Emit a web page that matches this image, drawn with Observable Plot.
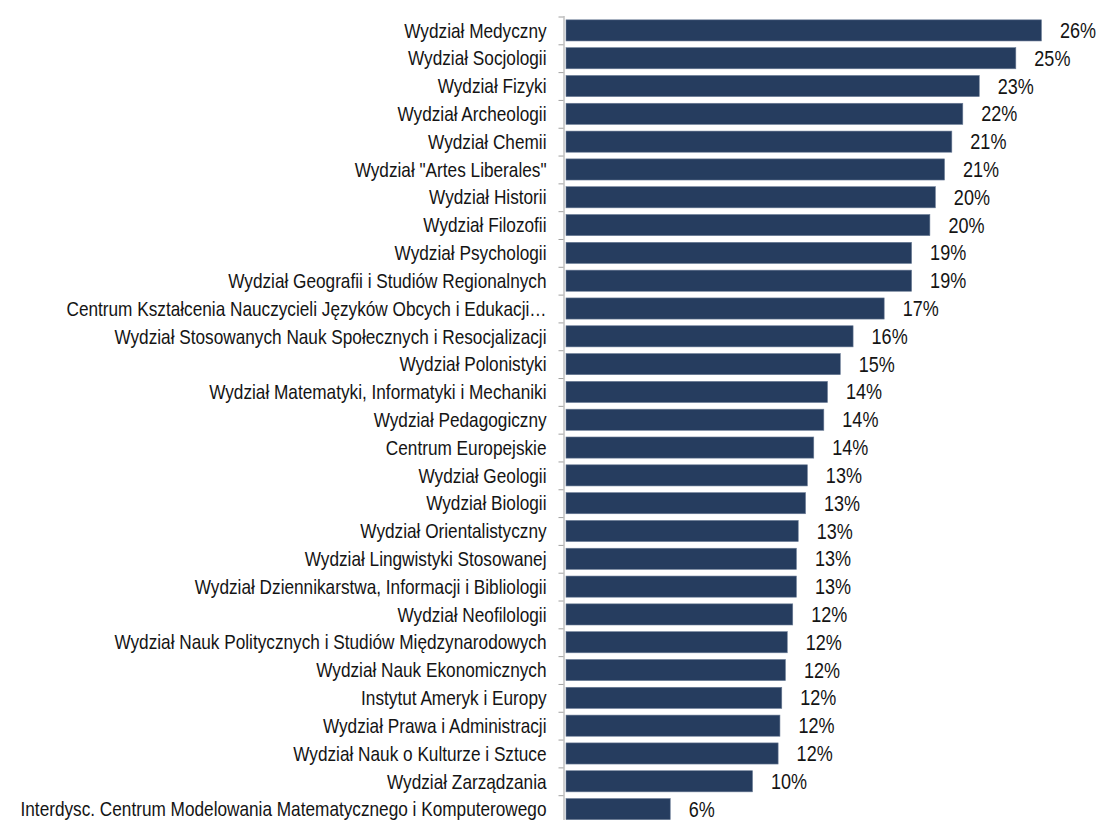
<!DOCTYPE html>
<html>
<head>
<meta charset="utf-8">
<script src="https://cdn.jsdelivr.net/npm/d3@7"></script>
<script src="https://cdn.jsdelivr.net/npm/@observablehq/plot@0.6"></script>
<style>
  html, body { margin: 0; padding: 0; background: #ffffff; }
  #chart { width: 1101px; height: 820px; overflow: hidden; }
</style>
</head>
<body>
<div id="chart"></div>
<script>
const categories = [
  "Wydział Medyczny",
  "Wydział Socjologii",
  "Wydział Fizyki",
  "Wydział Archeologii",
  "Wydział Chemii",
  "Wydział \"Artes Liberales\"",
  "Wydział Historii",
  "Wydział Filozofii",
  "Wydział Psychologii",
  "Wydział Geografii i Studiów Regionalnych",
  "Centrum Kształcenia Nauczycieli Języków Obcych i Edukacji…",
  "Wydział Stosowanych Nauk Społecznych i Resocjalizacji",
  "Wydział Polonistyki",
  "Wydział Matematyki, Informatyki i Mechaniki",
  "Wydział Pedagogiczny",
  "Centrum Europejskie",
  "Wydział Geologii",
  "Wydział Biologii",
  "Wydział Orientalistyczny",
  "Wydział Lingwistyki Stosowanej",
  "Wydział Dziennikarstwa, Informacji i Bibliologii",
  "Wydział Neofilologii",
  "Wydział Nauk Politycznych i Studiów Międzynarodowych",
  "Wydział Nauk Ekonomicznych",
  "Instytut Ameryk i Europy",
  "Wydział Prawa i Administracji",
  "Wydział Nauk o Kulturze i Sztuce",
  "Wydział Zarządzania",
  "Interdysc. Centrum Modelowania Matematycznego i Komputerowego"
];
const values = [
  26.0, 24.6, 22.6, 21.7, 21.1, 20.7, 20.2, 19.9, 18.9, 18.9,
  17.4, 15.7, 15.0, 14.3, 14.1, 13.55, 13.2, 13.1, 12.7, 12.6,
  12.6, 12.4, 12.1, 12.0, 11.8, 11.7, 11.6, 10.2, 5.7
];
const valueLabels = [
  "26%", "25%", "23%", "22%", "21%", "21%", "20%", "20%", "19%", "19%",
  "17%", "16%", "15%", "14%", "14%", "14%", "13%", "13%", "13%", "13%",
  "13%", "12%", "12%", "12%", "12%", "12%", "12%", "10%", "6%"
];

const data = categories.map((c, i) => ({category: c, value: values[i], label: valueLabels[i]}));

const H = 820;
const yTop = 16.5, yBottom = 823;
const step = (yBottom - yTop) / categories.length;
const font = "'Liberation Sans', Arial, sans-serif";
const condense = 0.82;

const chart = Plot.plot({
  width: 1101,
  height: H,
  marginLeft: 566,
  marginRight: 23,
  marginTop: 16,
  marginBottom: 0,
  style: {fontFamily: font, background: "#ffffff", color: "#1a1a1a", overflow: "hidden"},
  x: {domain: [0, 28], axis: null},
  y: {domain: categories, range: [yTop, yBottom], paddingInner: 0.24, paddingOuter: 0.12, round: false, axis: null},
  marks: [
    Plot.barX(data, {x: "value", y: "category", fill: "#263d5f", stroke: "#6b7c96", strokeWidth: 0.6}),
    Plot.ruleX([0], {stroke: "#a0a0a0", dx: -2.5}),
    Plot.axisY({anchor: "left", label: null, tickSize: 5, tickFormat: () => "", dy: -step / 2, dx: -2.5, stroke: "#a0a0a0"}),
    Plot.axisY({anchor: "left", label: null, tickSize: 0, tickPadding: 20, fontSize: 21, fill: "#141414"}),
    Plot.text(data, {x: "value", y: "category", text: "label", dx: 18, textAnchor: "start", fontSize: 22, fill: "#141414"})
  ]
});
document.getElementById("chart").appendChild(chart);

// Emulate a narrow (condensed) typeface by squeezing each text horizontally about its anchor.
chart.querySelectorAll("text").forEach(t => {
  if (!t.textContent) return;
  const bb = t.getBBox();
  const anchor = getComputedStyle(t).textAnchor;
  const ax = anchor === "end" ? bb.x + bb.width : anchor === "middle" ? bb.x + bb.width / 2 : bb.x;
  const tr = t.getAttribute("transform") || "";
  t.setAttribute("transform", `${tr} translate(${ax},0) scale(${condense},1) translate(${-ax},0)`.trim());
});
</script>
</body>
</html>
